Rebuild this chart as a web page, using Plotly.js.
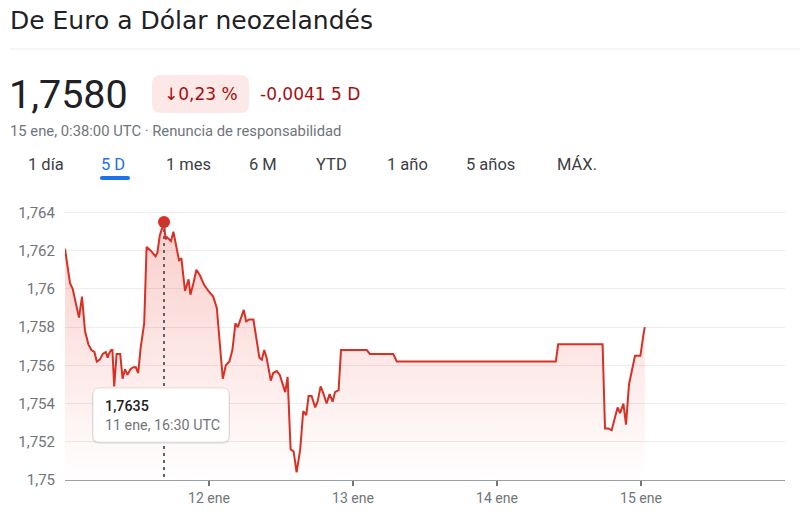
<!DOCTYPE html>
<html>
<head>
<meta charset="utf-8">
<script src="https://cdn.plot.ly/plotly-3.0.1.min.js"></script>
<style>
  html, body { margin: 0; padding: 0; background: #fff; }
  #chart { width: 800px; height: 524px; }
</style>
</head>
<body>
<div id="chart"></div>
<script>
// ---------- data ----------
const times = [
  "2024-01-11 00:00","2024-01-11 00:50","2024-01-11 01:17","2024-01-11 02:20","2024-01-11 02:50",
  "2024-01-11 03:20","2024-01-11 03:54","2024-01-11 04:24","2024-01-11 04:54","2024-01-11 05:18",
  "2024-01-11 05:48","2024-01-11 06:18","2024-01-11 06:48","2024-01-11 07:06","2024-01-11 07:18",
  "2024-01-11 07:42","2024-01-11 07:54","2024-01-11 08:12","2024-01-11 08:36","2024-01-11 09:12",
  "2024-01-11 09:36","2024-01-11 10:00","2024-01-11 10:24","2024-01-11 10:54","2024-01-11 11:24",
  "2024-01-11 11:48","2024-01-11 12:12","2024-01-11 12:36","2024-01-11 13:12","2024-01-11 13:36",
  "2024-01-11 14:18","2024-01-11 15:06","2024-01-11 15:24","2024-01-11 15:48","2024-01-11 16:30",
  "2024-01-11 16:45","2024-01-11 17:00","2024-01-11 17:20","2024-01-11 17:40","2024-01-11 18:04",
  "2024-01-11 18:36","2024-01-11 19:00","2024-01-11 19:24","2024-01-11 20:00","2024-01-11 20:36",
  "2024-01-11 20:54","2024-01-11 21:24","2024-01-11 21:54","2024-01-11 22:30","2024-01-11 23:12",
  "2024-01-11 23:54","2024-01-12 00:42","2024-01-12 01:18","2024-01-12 01:48","2024-01-12 02:18",
  "2024-01-12 02:48","2024-01-12 03:24","2024-01-12 03:54","2024-01-12 04:24","2024-01-12 04:48",
  "2024-01-12 05:12","2024-01-12 05:48","2024-01-12 06:12","2024-01-12 06:42","2024-01-12 07:24",
  "2024-01-12 07:54","2024-01-12 08:24","2024-01-12 08:48","2024-01-12 09:12","2024-01-12 09:36",
  "2024-01-12 10:18","2024-01-12 10:42","2024-01-12 11:18","2024-01-12 11:48","2024-01-12 12:42",
  "2024-01-12 13:06","2024-01-12 13:36","2024-01-12 14:06","2024-01-12 14:36","2024-01-12 15:12",
  "2024-01-12 15:42","2024-01-12 16:12","2024-01-12 16:36","2024-01-12 17:06","2024-01-12 17:42",
  "2024-01-12 18:06","2024-01-12 18:36","2024-01-12 19:06","2024-01-12 19:36","2024-01-12 20:06",
  "2024-01-12 20:36","2024-01-12 21:00","2024-01-12 21:36","2024-01-12 22:00","2024-01-13 02:18",
  "2024-01-13 02:48","2024-01-13 06:42","2024-01-13 07:18","2024-01-14 09:48","2024-01-14 10:12",
  "2024-01-14 17:36","2024-01-14 18:00","2024-01-14 18:34","2024-01-14 19:06","2024-01-14 20:06",
  "2024-01-14 20:30","2024-01-14 21:04","2024-01-14 21:30","2024-01-14 22:00","2024-01-14 23:00",
  "2024-01-14 23:54","2024-01-15 00:24","2024-01-15 00:38"
];
const rates = [
  1.7621,1.7603,1.7600,1.7585,1.7596,
  1.7578,1.7571,1.7568,1.7567,1.7562,
  1.7563,1.7566,1.7567,1.7564,1.7566,
  1.7568,1.7568,1.7549,1.7566,1.7566,
  1.7553,1.7558,1.7555,1.7558,1.7559,
  1.7559,1.7556,1.7569,1.7582,1.7622,
  1.7620,1.7617,1.7619,1.7628,1.7635,
  1.7626,1.7627,1.7626,1.7625,1.7630,
  1.7622,1.7615,1.7616,1.7599,1.7605,
  1.7597,1.7603,1.7610,1.7607,1.7602,
  1.7599,1.7596,1.7590,1.7569,1.7553,
  1.7560,1.7562,1.7568,1.7582,1.7580,
  1.7584,1.7589,1.7583,1.7584,1.7584,
  1.7573,1.7564,1.7563,1.7568,1.7564,
  1.7552,1.7556,1.7557,1.7555,1.7546,
  1.7554,1.7516,1.7515,1.7504,1.7516,
  1.7536,1.7534,1.7544,1.7544,1.7538,
  1.7541,1.7549,1.7545,1.7540,1.7545,
  1.7541,1.7546,1.7547,1.7568,1.7568,
  1.7566,1.7566,1.7562,1.7562,1.7571,
  1.7571,1.7527,1.7527,1.7526,1.7538,
  1.7535,1.7540,1.7529,1.7550,1.7565,
  1.7565,1.7576,1.7580
];
const yTickVals = [1.75, 1.752, 1.754, 1.756, 1.758, 1.76, 1.762, 1.764];
const yTickText = ["1,75", "1,752", "1,754", "1,756", "1,758", "1,76", "1,762", "1,764"];
const xTickVals = ["2024-01-12", "2024-01-13", "2024-01-14", "2024-01-15"];
const xTickText = ["12 ene", "13 ene", "14 ene", "15 ene"];
const tabs = ["1 día", "5 D", "1 mes", "6 M", "YTD", "1 año", "5 años", "MÁX."];
const titleText = "De Euro a Dólar neozelandés";
const priceText = "1,7580";
const pctText = "↓0,23 %";
const changeText = "-0,0041 5 D";
const subText = "15 ene, 0:38:00 UTC · Renuncia de responsabilidad";
const tipValue = "1,7635";
const tipTime = "11 ene, 16:30 UTC";

// ---------- layout helpers ----------
const W = 800, H = 524;
const M = { l: 65, r: 15, t: 202, b: 44 };
const PW = W - M.l - M.r, PH = H - M.t - M.b;
const px = x => (x - M.l) / PW;
const py = y => (H - M.b - y) / PH;
const FONT = "Roboto, 'Noto Sans', sans-serif";
const WIDE = "'DejaVu Sans', Roboto, sans-serif";

function label(x, y, text, size, color, family, weight) {
  return {
    xref: "paper", yref: "paper", x: px(x), y: py(y),
    xanchor: "left", yanchor: "middle", showarrow: false,
    text: text, font: { family: family || FONT, size: size, color: color, weight: weight || 400 }
  };
}
function roundRect(x0, y0, x1, y1, r, fill, line) {
  const rx = r / PW, ry = r / PH;
  const X0 = px(x0), X1 = px(x1), Y0 = py(y1), Y1 = py(y0);
  const p = `M ${X0 + rx},${Y0} L ${X1 - rx},${Y0} Q ${X1},${Y0} ${X1},${Y0 + ry} ` +
            `L ${X1},${Y1 - ry} Q ${X1},${Y1} ${X1 - rx},${Y1} L ${X0 + rx},${Y1} ` +
            `Q ${X0},${Y1} ${X0},${Y1 - ry} L ${X0},${Y0 + ry} Q ${X0},${Y0} ${X0 + rx},${Y0} Z`;
  return { type: "path", xref: "paper", yref: "paper", path: p, fillcolor: fill,
           line: line || { width: 0 }, layer: "above" };
}

// peak point (tooltip target)
let peak = 0;
rates.forEach((v, i) => { if (v > rates[peak]) peak = i; });

const RED = "#d93025";

const traces = [
  {
    x: times, y: rates, type: "scatter", mode: "lines",
    line: { color: RED, width: 2 },
    fill: "tozeroy",
    fillgradient: {
      type: "vertical", start: 1.75, stop: 1.7635,
      colorscale: [[0, "rgba(234,67,53,0.0)"], [1, "rgba(234,67,53,0.26)"]]
    },
    hoverinfo: "skip"
  },
  {
    x: [times[peak]], y: [rates[peak]], type: "scatter", mode: "markers",
    marker: { color: RED, size: 12 }, hoverinfo: "skip"
  }
];

const tabX = [28, 101, 166, 249, 316, 387, 466, 557];
const annotations = [
  label(8, 20, titleText, 25, "#202124", WIDE),
  label(7, 95, priceText, 39.5, "#202124"),
  label(162, 94, pctText, 17, "#a50e0e", WIDE),
  label(258, 94, changeText, 17, "#a50e0e", WIDE),
  label(8, 131, subText, 14.8, "#70757a"),
  label(103, 406, tipValue, 14.3, "#202124", FONT, 500),
  label(103, 425, tipTime, 14.3, "#70757a")
];
tabs.forEach((t, i) => {
  annotations.push(label(tabX[i] - 2, 164, t, 16.5, i === 1 ? "#1a73e8" : "#3c4043"));
});

const shapes = [
  { type: "line", xref: "paper", yref: "paper", x0: px(10), x1: px(800), y0: py(49), y1: py(49),
    line: { color: "#e8eaed", width: 1 } },
  roundRect(152, 75, 249, 113, 9, "#fce8e6"),
  roundRect(100, 176, 130, 180, 2, "#1a73e8"),
  { type: "line", xref: "x", yref: "y", x0: times[peak], x1: times[peak], y0: rates[peak], y1: 1.75,
    line: { color: "#5f6368", width: 2, dash: "3px,4px" }, layer: "above" },
  roundRect(92, 389, 230, 444, 7, "rgba(0,0,0,0.07)"),
  roundRect(93, 388, 229, 442, 6, "#ffffff", { color: "rgba(0,0,0,0.10)", width: 1 })
];

const layout = {
  width: W, height: H,
  margin: M,
  paper_bgcolor: "#ffffff", plot_bgcolor: "#ffffff",
  showlegend: false,
  hovermode: false,
  font: { family: FONT, color: "#70757a" },
  xaxis: {
    type: "date",
    range: ["2024-01-11 00:00", "2024-01-16 00:00"],
    tickvals: xTickVals, ticktext: xTickText,
    showgrid: false, zeroline: false,
    showline: true, linecolor: "#9aa0a6", linewidth: 1,
    ticks: "outside", ticklen: 5, tickwidth: 2, tickcolor: "#70757a",
    tickfont: { family: FONT, size: 14, color: "#70757a" },
    fixedrange: true
  },
  yaxis: {
    range: [1.75, 1.76455],
    tickvals: yTickVals, ticktext: yTickText,
    showgrid: true, gridcolor: "#ececec", gridwidth: 1,
    zeroline: false, showline: false, ticks: "",
    ticklabelstandoff: 9,
    tickfont: { family: FONT, size: 15, color: "#70757a" },
    fixedrange: true
  },
  shapes: shapes,
  annotations: annotations
};

Plotly.newPlot("chart", traces, layout, { staticPlot: true, displayModeBar: false });
</script>
</body>
</html>
